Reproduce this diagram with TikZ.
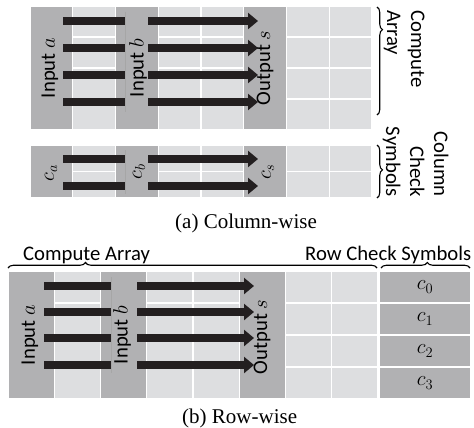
\documentclass[tikz,border=0pt]{standalone}
\usepackage{fix-cm}
\usepackage{fontspec}
\setsansfont{Carlito}
\newfontfamily\capfont{Liberation Serif}
\usetikzlibrary{arrows.meta,decorations.pathreplacing}

\definecolor{bandgray}{RGB}{177,177,179}
\definecolor{cellgray}{RGB}{221,222,224}
\definecolor{barblack}{RGB}{35,31,32}

\tikzset{
  band/.style={fill=bandgray, draw=white, line width=1.2pt},
  cell/.style={fill=cellgray, draw=white, line width=1.2pt},
  seam/.style={draw=gray!70, line width=0.5pt},
  bar/.style={draw=barblack, line width=7.5pt},
  flow/.style={bar, -{Triangle[length=10pt,width=16pt]}},
  lbl/.style={font=\sffamily\fontsize{20.7}{24}\selectfont, inner sep=0pt},
  vlbl/.style={lbl, rotate=-90},
  captext/.style={font=\capfont\fontsize{21}{25}\selectfont, inner sep=0pt},
  curly/.style={draw=black, line width=1.1pt, decorate,
    decoration={brace, amplitude=5.5pt, aspect=#1}},
  curly/.default=0.5
}

\begin{document}
\begin{tikzpicture}[x=1pt, y=-1pt]
\useasboundingbox (0,0) rectangle (474,428);
\fill[white] (0,0) rectangle (474,428);

% ---------- (a) column-wise layout ----------
% compute array: operand columns and free cells
\foreach \c in {0,2,5}
  \filldraw[band] ({30+42.75*\c},6) rectangle ++(42.75,124);
\foreach \c in {1,3,4,6,7}
  \foreach \r in {0,...,3}
    \filldraw[cell] ({30+42.75*\c},{6+31*\r}) rectangle ++(42.75,31);
% column check symbol rows
\foreach \c in {0,2,5}
  \filldraw[band] ({30+42.75*\c},145) rectangle ++(42.75,53);
\foreach \c in {1,3,4,6,7}
  \foreach \r in {0,1}
    \filldraw[cell] ({30+42.75*\c},{145+26.5*\r}) rectangle ++(42.75,26.5);

\draw[seam] (125,12) -- (125,112);
\draw[seam] (125,150) -- (125,194);

\foreach \y in {21,48,75,102,159,186} {
  \draw[bar] (63,\y) -- (125,\y);
  \draw[flow] (148,\y) -- (258,\y);
}

\node[lbl, rotate=90] (ina) at (50,68) {Input $a$};
\node[lbl, rotate=90] (inb) at (138,68) {Input $b$};
\node[lbl, rotate=90] (outs) at (265,68) {Output $s$};
\node[lbl, rotate=90] (ca) at (51,173) {$c_a$};
\node[lbl, rotate=90] (cb) at (139,172) {$c_b$};
\node[lbl, rotate=90] (cs) at (268,172) {$c_s$};

\draw[curly=0.21] (377,7) -- (377,115);
\draw[curly=0.47] (377,145) -- (377,198);
% brace labels, one line per node, read top to bottom
\node[vlbl, anchor=base west] (cmpa1) at (411,10) {Compute};
\node[vlbl, anchor=base west] (cmpa2) at (387,10) {Array};
\node[vlbl, anchor=base east] (chka1) at (434,197) {Column};
\node[vlbl, anchor=base east] (chka2) at (410,197) {Check};
\node[vlbl, anchor=base east] (chka3) at (386,197) {Symbols};

\node[captext, anchor=base west] (capa) at (175,228) {(a) Column-wise};

% ---------- (b) row-wise layout ----------
\foreach \c in {0,2,5}
  \filldraw[band] ({8+46.25*\c},271) rectangle ++(46.25,128);
\foreach \c in {1,3,4,6,7}
  \foreach \r in {0,...,3}
    \filldraw[cell] ({8+46.25*\c},{271+32*\r}) rectangle ++(46.25,32);
% row check symbol column
\foreach \r in {0,...,3}
  \filldraw[band] (379,{271+32*\r}) rectangle ++(92,32);

\draw[seam] (111,277) -- (111,373);

\foreach \y in {286,312,338,365} {
  \draw[bar] (44,\y) -- (111,\y);
  \draw[flow] (137,\y) -- (254,\y);
}

\node[lbl, rotate=90] (inab) at (30,335) {Input $a$};
\node[lbl, rotate=90] (inbb) at (122,335) {Input $b$};
\node[lbl, rotate=90] (outsb) at (262,337) {Output $s$};
\foreach \k in {0,...,3}
  \node[lbl] (c\k) at (425,{287+32*\k}) {$c_{\k}$};

\draw[curly=0.21] (8,268) -- (377,268);
\draw[curly=0.52] (381,268) -- (470,268);
\node[lbl, anchor=base west] (cmpb) at (23,260) {Compute Array};
\node[lbl, anchor=base west] (chkb) at (305,260) {Row Check Symbols};

\node[captext, anchor=base west] (capb) at (182,423) {(b) Row-wise};
\end{tikzpicture}
\end{document}
